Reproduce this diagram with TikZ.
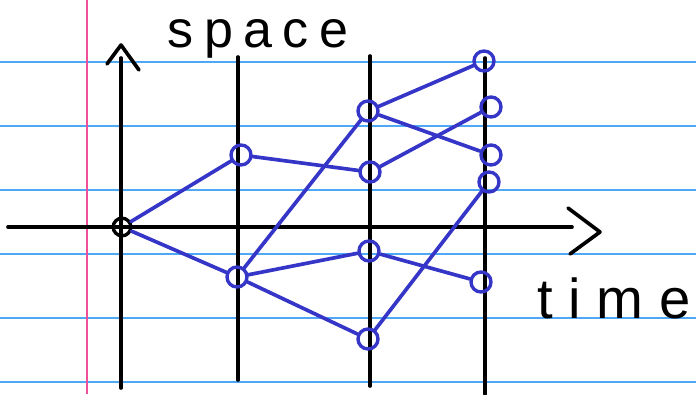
\documentclass[tikz,border=0pt]{standalone}
\usepackage{fontspec}
\newfontfamily\handfont[LetterSpace=20]{Liberation Sans}
\newfontfamily\handwide[LetterSpace=28]{Liberation Sans}
\usetikzlibrary{positioning,calc}
\definecolor{ruleblue}{HTML}{4FA8F5}
\definecolor{marginpink}{HTML}{F0509A}
\definecolor{inkblue}{HTML}{3535C8}
\tikzset{
  ink/.style={line width=2.6pt,line cap=round,line join=round},
  walk/.style={ink,inkblue},
  event/.style={circle,draw=inkblue,line width=2.4pt,minimum size=0.5cm,inner sep=0pt},
  scrawl/.style={font=\handfont\fontsize{37}{37}\selectfont,inner sep=0pt},
}

\begin{document}
\begin{tikzpicture}[x=0.025cm,y=-0.025cm]
\useasboundingbox[fill=white] (0,0) rectangle (696,394);
% ruled paper
\foreach \y in {62,126,...,382}{
  \draw[ruleblue,line width=1.2pt] (0,\y) -- (696,\y);
}
\draw[marginpink,line width=1.2pt] (87,0) -- (87,394);

% axes and time slices
\coordinate (ybot) at (121,388);
\coordinate (ytop) at (121,58);
\coordinate (xleft) at (8,227);
\coordinate (xright) at (572,227);
\coordinate (ytip) at (121,45);
\coordinate (xtip) at (600,232);
\draw[ink] (ybot) -- (ytop);
\draw[ink] (xleft) -- (xright);
\draw[ink] ($(ytip)+(-14,19)$) -- (ytip) -- ++(18,25);
\draw[ink] ($(xtip)+(-32,-24)$) -- (xtip) -- ++(-30,22);
\foreach \x/\a/\b in {238/57/380,370/56/386,485/58/394}{
  \draw[ink] (\x,\a) -- (\x,\b);
}
\node[scrawl,anchor=base] (spacelbl) at (258,48) {space};
\node[scrawl,font=\handwide\fontsize{40}{40}\selectfont,anchor=base] (timelbl) at (614,318) {time};

% events
\node[event,draw=black,minimum size=0.44cm] (o) at (122,227) {};
\node[event] (a1) at (241,155) {};
\node[event] (b1) at (237,277) {};
\node[event] (c2) at (368,111) {};
\node[event] (d2) at (370,172) {};
\node[event] (e2) at (369,251) {};
\node[event] (f2) at (368,339) {};
\node[event] (g3) at (484,61) {};
\node[event] (h3) at (491,107) {};
\node[event] (i3) at (491,155) {};
\node[event] (j3) at (489,182) {};
\node[event] (k3) at (481,282) {};

% paths
\foreach \p/\q in {o/a1,o/b1,a1/d2,d2/h3,b1/c2,c2/g3,c2/i3,b1/e2,e2/k3,b1/f2,f2/j3}{
  \draw[walk] (\p) -- (\q);
}
\end{tikzpicture}
\end{document}
